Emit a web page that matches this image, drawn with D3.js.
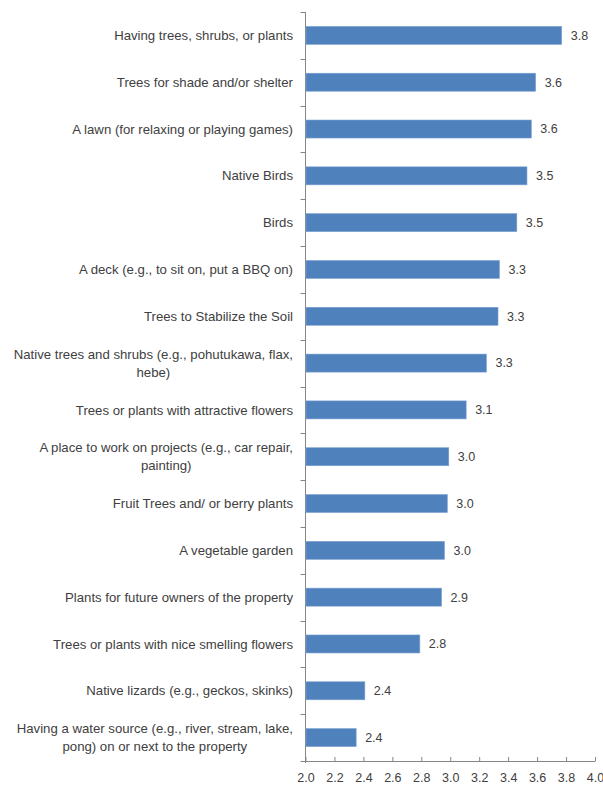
<!DOCTYPE html>
<html>
<head>
<meta charset="utf-8">
<script src="https://cdn.jsdelivr.net/npm/d3@7"></script>
<style>
  html, body { margin: 0; padding: 0; background: #fff; }
  text { font-family: "Liberation Sans", Arial, sans-serif; fill: #404040; }
</style>
</head>
<body>
<svg id="chart" width="603" height="787"></svg>
<script>
const categories = [
  ["Having trees, shrubs, or plants"],
  ["Trees for shade and/or shelter"],
  ["A lawn (for relaxing or playing games)"],
  ["Native Birds"],
  ["Birds"],
  ["A deck (e.g., to sit on, put a BBQ on)"],
  ["Trees to Stabilize the Soil"],
  ["Native trees and shrubs (e.g., pohutukawa, flax,", "hebe)"],
  ["Trees or plants with attractive flowers"],
  ["A place to work on projects (e.g., car repair,", "painting)"],
  ["Fruit Trees and/ or berry plants"],
  ["A vegetable garden"],
  ["Plants for future owners of the property"],
  ["Trees or plants with nice smelling flowers"],
  ["Native lizards (e.g., geckos, skinks)"],
  ["Having a water source (e.g., river, stream, lake,", "pong) on or next to the property"]
];
const values = [3.77, 3.59, 3.56, 3.53, 3.46, 3.34, 3.33, 3.25, 3.11, 2.99, 2.98, 2.96, 2.94, 2.79, 2.41, 2.35];
const xTicks = [2.0, 2.2, 2.4, 2.6, 2.8, 3.0, 3.2, 3.4, 3.6, 3.8, 4.0];

(function () {
const svg = d3.select("#chart");
const mLeft = 305.5, mRight = 595, mTop = 12, mBottom = 761;
const ids = categories.map((d, i) => i);

const x = d3.scaleLinear().domain([2, 4]).range([mLeft, mRight]);
const y = d3.scaleBand().domain(ids).range([mTop, mBottom]).paddingInner(0.615).paddingOuter(0.3075);

const axisColor = "#868686";

svg.append("line").attr("x1", mLeft).attr("x2", mLeft).attr("y1", mTop).attr("y2", mBottom + 2)
  .attr("stroke", axisColor).attr("stroke-width", 1);
const step = y.step();
for (let i = 0; i <= ids.length; i++) {
  const yy = Math.round(mTop + i * step) + 0.5;
  svg.append("line").attr("x1", mLeft - 5).attr("x2", mLeft).attr("y1", yy).attr("y2", yy)
    .attr("stroke", axisColor);
}

const xAxis = d3.axisBottom(x).tickValues(xTicks).tickFormat(d3.format(".1f"))
  .tickSizeInner(-4).tickSizeOuter(0).tickPadding(12);
const gx = svg.append("g").attr("transform", `translate(0,${mBottom})`).call(xAxis);
gx.select(".domain").attr("stroke", axisColor);
gx.selectAll(".tick line").attr("stroke", axisColor);
gx.selectAll(".tick text").attr("font-size", "12.5px").attr("fill", "#404040")
  .style("font-family", "'Liberation Sans', Arial, sans-serif");

svg.append("g").selectAll("rect").data(values).join("rect")
  .attr("x", mLeft + 0.5)
  .attr("y", (d, i) => y(i))
  .attr("width", d => x(d) - mLeft - 0.5)
  .attr("height", y.bandwidth())
  .attr("fill", "#4F81BD")
  .attr("stroke", "#7FA3D1")
  .attr("stroke-width", 0.6);

svg.append("g").selectAll("text").data(values).join("text")
  .attr("x", d => x(d) + 9)
  .attr("y", (d, i) => y(i) + y.bandwidth() / 2)
  .attr("dy", "0.35em")
  .attr("font-size", "12.5px")
  .text(d => d.toFixed(1));

const labelRight = 293;
const lineH = 18;
categories.forEach((lines, i) => {
  const cy = y(i) + y.bandwidth() / 2;
  const g = svg.append("g");
  const n = lines.length;
  const texts = lines.map((ln, k) => g.append("text")
    .attr("font-size", "13.2px")
    .attr("y", cy + (k - (n - 1) / 2) * lineH)
    .attr("dy", "0.35em")
    .text(ln));
  const widths = texts.map(t => t.node().getComputedTextLength());
  const maxW = Math.max(...widths);
  const center = labelRight - maxW / 2;
  texts.forEach(t => t.attr("x", center).attr("text-anchor", "middle"));
});
})();
</script>
</body>
</html>
